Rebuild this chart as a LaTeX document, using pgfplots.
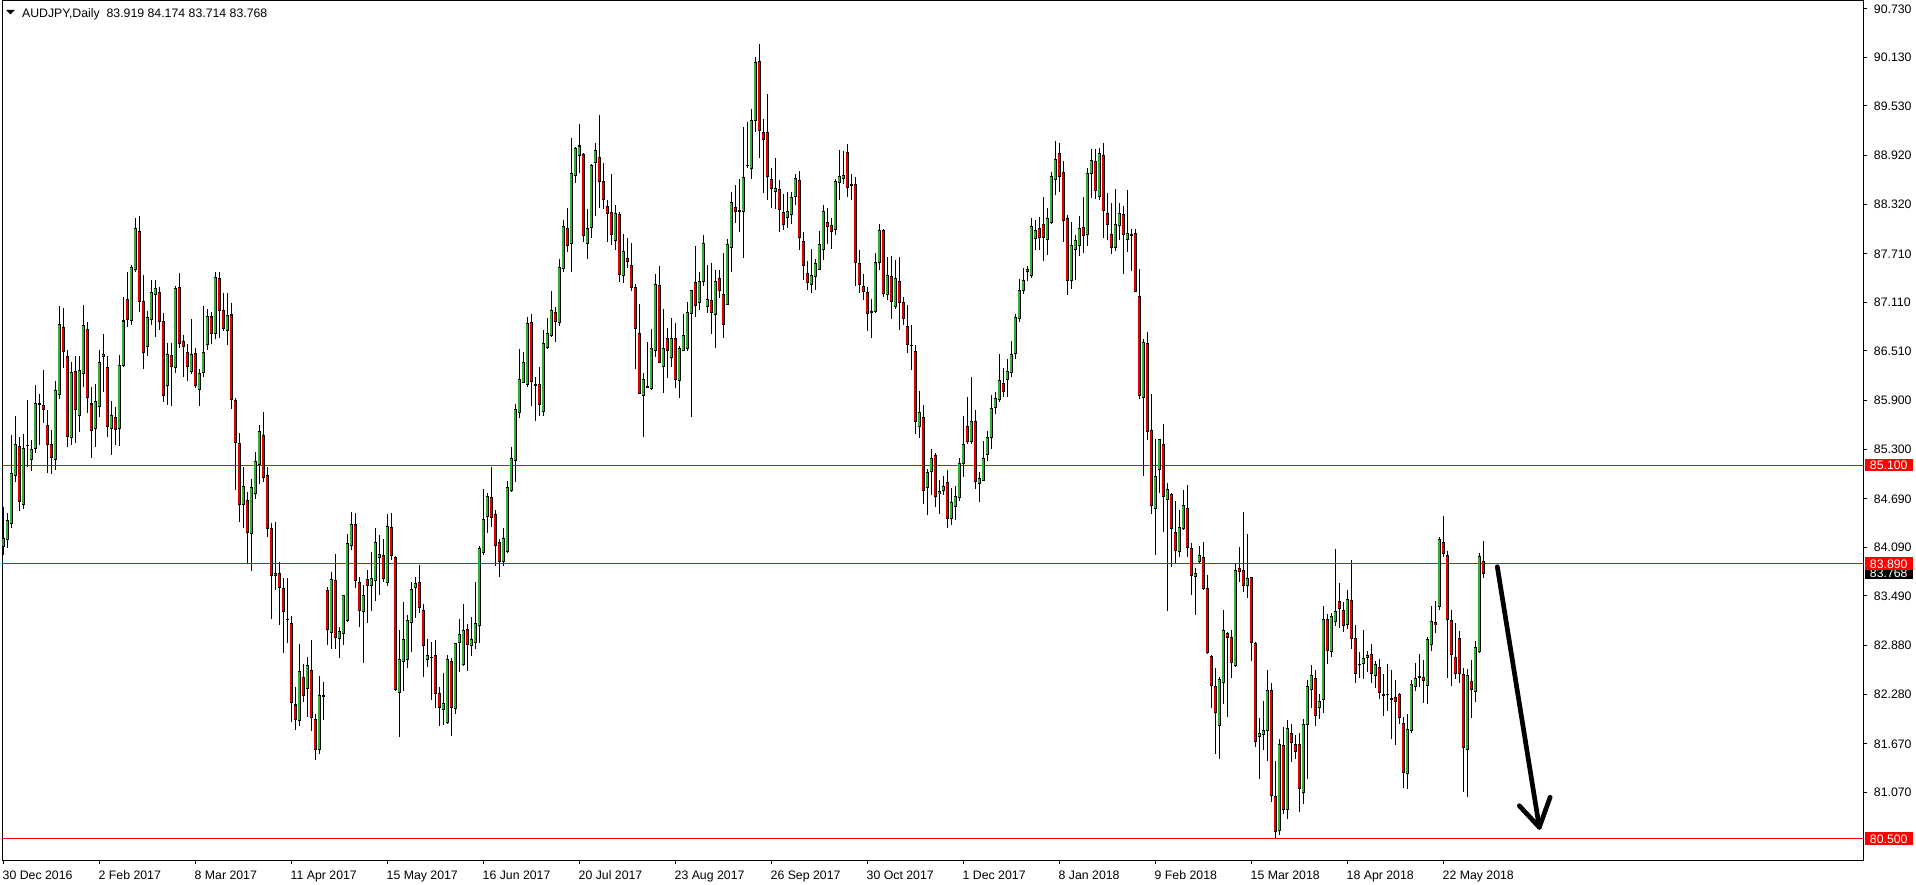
\documentclass[border=0pt]{standalone}
\usepackage{pgfplots}
\pgfplotsset{compat=1.18}
\usepackage{pgfplotstable}
\usepackage{fontspec}
\setmainfont{Liberation Sans}
\definecolor{bull}{RGB}{50,175,50}
\definecolor{bear}{RGB}{225,0,0}
\pgfplotstableread{
i o h l c
0 84.098 84.591 83.995 84.200
1 84.188 84.508 84.077 84.426
2 84.385 85.474 84.324 85.001
3 84.973 85.708 84.899 85.359
4 85.330 85.445 84.541 84.652
5 84.619 85.486 84.558 85.310
6 85.347 85.905 85.084 85.345
7 85.174 85.412 85.034 85.297
8 85.310 86.090 85.248 85.864
9 85.856 85.979 85.351 85.858
10 85.839 86.275 85.618 85.790
11 85.593 85.782 85.001 85.359
12 85.359 85.535 84.993 85.195
13 85.174 86.139 85.043 86.024
14 85.975 87.064 85.922 86.838
15 86.801 87.043 86.304 86.501
16 86.447 86.521 85.322 85.453
17 85.445 86.378 85.351 86.246
18 86.250 86.447 85.371 85.790
19 85.716 86.447 85.515 86.263
20 86.234 87.076 86.070 86.825
21 86.768 86.871 85.741 85.938
22 85.856 86.070 85.186 85.535
23 85.556 86.102 85.330 85.881
24 85.823 86.521 85.700 86.369
25 86.439 86.719 86.008 86.472
26 86.312 86.447 85.453 85.577
27 85.552 85.893 85.227 85.708
28 85.696 85.815 85.351 85.544
29 85.556 86.460 85.342 86.337
30 86.328 87.170 86.316 86.879
31 87.146 87.487 86.809 86.899
32 86.883 87.569 86.830 87.540
33 87.516 88.144 87.487 88.021
34 87.988 88.173 86.994 87.117
35 87.125 87.446 86.283 86.489
36 86.563 87.002 86.447 86.928
37 86.899 87.384 86.830 87.236
38 87.203 87.384 86.677 87.273
39 87.236 87.294 86.768 86.871
40 86.879 86.973 85.876 85.959
41 86.082 86.604 85.844 86.468
42 86.447 86.604 85.835 86.316
43 86.308 87.310 86.234 87.285
44 87.294 87.474 86.542 86.604
45 86.628 86.706 86.185 86.563
46 86.493 86.595 86.143 86.316
47 86.255 86.900 86.226 86.468
48 86.481 86.542 86.049 86.078
49 86.037 86.284 85.832 86.234
50 86.243 87.064 86.185 86.493
51 86.592 87.023 86.522 86.933
52 86.933 86.994 86.596 86.727
53 86.727 87.479 86.657 87.417
54 87.405 87.479 86.666 87.007
55 87.007 87.220 86.760 86.789
56 86.768 87.228 86.583 86.953
57 86.953 87.097 85.791 85.906
58 85.897 85.934 84.797 85.380
59 85.372 85.495 84.406 84.620
60 84.620 85.076 84.324 84.838
61 84.661 84.776 83.885 84.271
62 84.262 84.928 83.802 84.825
63 84.755 85.261 84.681 85.154
64 85.113 85.598 84.870 85.519
65 85.462 85.754 84.899 84.953
66 84.977 85.076 84.221 84.324
67 84.324 84.386 83.207 83.745
68 83.741 84.398 83.564 83.769
69 83.769 83.905 83.133 83.593
70 83.585 83.708 82.784 83.297
71 83.203 83.708 82.907 83.201
72 83.153 83.244 81.941 82.176
73 82.147 82.373 81.839 81.970
74 81.954 82.899 81.888 82.558
75 82.488 82.652 82.188 82.266
76 82.352 82.742 81.995 82.636
77 82.570 82.948 81.831 81.995
78 81.970 82.036 81.469 81.600
79 81.600 82.504 81.543 82.266
80 82.262 82.426 81.962 82.264
81 83.552 83.605 82.886 83.071
82 83.042 83.790 82.833 83.695
83 83.679 84.004 82.833 82.977
84 82.968 83.112 82.722 83.059
85 83.030 83.502 82.886 83.490
86 83.186 84.254 83.174 84.139
87 84.115 84.529 84.057 84.373
88 84.373 84.509 83.585 83.679
89 83.659 83.728 83.112 83.309
90 83.297 83.626 82.660 83.502
91 83.695 83.811 83.162 83.618
92 83.618 84.037 83.309 83.708
93 83.679 84.333 83.433 84.152
94 83.967 84.242 83.503 84.004
95 83.992 84.189 83.667 83.700
96 83.655 84.497 83.614 84.349
97 84.337 84.509 83.934 83.988
98 83.967 83.983 82.324 82.332
99 82.299 83.071 81.757 82.702
100 82.681 83.416 82.324 82.948
101 82.710 83.256 82.599 83.182
102 83.162 83.659 82.804 83.573
103 83.593 83.720 83.223 83.646
104 83.659 83.872 83.277 83.347
105 83.306 83.388 82.496 82.878
106 82.710 82.960 82.619 82.755
107 82.735 82.919 82.209 82.737
108 82.755 82.948 82.106 82.291
109 82.291 82.373 81.892 82.114
110 82.094 82.537 81.900 82.168
111 81.929 82.763 81.913 82.702
112 82.689 82.722 81.769 82.114
113 82.106 82.915 82.032 82.907
114 82.915 83.207 82.558 83.010
115 82.640 83.388 82.632 83.059
116 83.071 83.141 82.566 82.895
117 82.878 83.227 82.755 82.948
118 82.919 83.659 82.837 83.154
119 83.125 84.107 82.915 84.078
120 84.024 84.805 83.996 84.435
121 84.468 84.764 84.263 84.719
122 84.702 85.080 84.345 84.456
123 84.497 84.550 83.860 84.111
124 84.148 84.189 83.720 83.914
125 83.914 84.333 83.860 84.201
126 84.037 84.908 84.024 84.830
127 84.789 85.331 84.776 85.183
128 85.158 85.852 84.899 85.791
129 85.750 86.530 85.680 86.161
130 86.120 86.493 86.111 86.370
131 86.099 86.933 86.062 86.851
132 86.863 86.966 85.832 86.132
133 86.091 86.193 85.651 86.089
134 86.099 86.308 85.713 85.844
135 85.762 86.769 85.713 86.604
136 86.551 86.912 86.534 86.727
137 86.699 87.249 86.686 87.011
138 86.986 87.048 86.625 86.871
139 86.863 87.643 86.822 87.541
140 87.528 88.124 87.487 88.050
141 88.021 88.268 87.726 87.808
142 87.837 89.139 87.487 88.699
143 88.670 89.028 88.576 89.007
144 88.917 89.307 88.699 89.036
145 88.925 88.946 87.857 87.931
146 87.837 88.260 87.639 88.021
147 88.030 88.810 87.906 88.790
148 88.835 89.069 88.178 88.983
149 88.896 89.418 88.276 88.597
150 88.605 88.822 88.260 88.371
151 88.284 88.371 87.849 88.206
152 88.219 88.691 87.816 87.947
153 87.869 88.309 87.754 88.206
154 88.186 88.227 87.364 87.446
155 87.446 87.947 87.344 87.742
156 87.643 87.898 87.528 87.611
157 87.557 87.841 87.249 87.294
158 87.294 87.331 86.284 86.789
159 86.719 87.085 85.976 85.988
160 85.955 86.234 85.454 86.152
161 86.070 86.625 86.049 86.072
162 86.049 86.777 86.029 86.534
163 86.510 87.459 86.440 87.323
164 87.323 87.557 86.358 86.370
165 86.317 87.027 85.988 86.543
166 86.666 86.789 86.173 86.510
167 86.432 86.912 86.317 86.658
168 86.658 86.851 86.058 86.160
169 86.148 86.575 85.926 86.543
170 86.522 86.966 86.510 86.707
171 86.543 87.109 86.510 86.986
172 86.974 87.261 85.692 87.257
173 87.356 87.808 86.933 87.068
174 87.109 87.479 87.015 87.372
175 87.364 87.939 87.315 87.837
176 87.056 87.570 86.974 87.146
177 87.134 87.590 86.715 86.986
178 86.962 87.508 86.543 87.372
179 87.397 87.508 87.159 87.253
180 87.208 87.713 86.666 86.838
181 87.085 87.890 87.077 87.816
182 87.787 88.473 87.479 88.342
183 88.280 88.555 88.083 88.227
184 88.239 88.629 87.980 88.241
185 88.235 89.270 87.660 88.650
186 88.802 89.328 88.761 88.800
187 88.761 89.492 88.625 89.352
188 89.352 90.137 89.213 90.067
189 90.084 90.293 88.884 89.225
190 89.204 89.369 88.453 89.118
191 89.204 89.673 88.371 88.658
192 88.625 88.761 88.268 88.510
193 88.473 88.884 88.260 88.514
194 88.502 88.617 87.972 88.255
195 88.219 88.440 88.001 88.071
196 88.153 88.473 88.021 88.227
197 88.194 88.469 88.071 88.399
198 88.407 88.687 88.305 88.633
199 88.613 88.724 87.758 87.914
200 87.861 87.976 87.389 87.569
201 87.463 87.615 87.265 87.348
202 87.323 87.762 87.224 87.438
203 87.422 87.639 87.265 87.586
204 87.512 87.984 87.504 87.824
205 87.758 88.305 87.627 88.231
206 88.091 88.276 87.832 88.050
207 88.054 88.149 87.762 87.988
208 88.005 88.625 87.943 88.600
209 88.584 88.983 88.366 88.662
210 88.633 88.974 88.572 88.674
211 88.954 89.065 88.407 88.522
212 88.559 88.695 88.375 88.557
213 88.564 88.654 87.311 87.606
214 87.586 87.750 87.224 87.327
215 87.306 87.454 87.142 87.237
216 87.228 87.298 86.756 86.978
217 86.990 87.146 86.670 86.988
218 87.002 87.717 86.978 87.598
219 87.598 88.079 87.504 87.988
220 87.997 88.009 87.175 87.216
221 87.204 87.668 87.134 87.438
222 87.430 87.676 86.908 87.126
223 87.064 87.627 87.031 87.401
224 87.368 87.668 86.764 87.113
225 87.113 87.175 86.826 86.916
226 86.814 87.072 86.485 86.588
227 86.579 86.826 86.279 86.577
228 86.505 86.579 85.483 85.635
229 85.585 86.012 85.441 85.758
230 85.688 85.840 84.620 84.784
231 84.821 85.059 84.484 85.010
232 85.018 85.306 84.731 85.183
233 85.224 85.252 84.587 84.722
234 84.751 84.924 84.505 84.780
235 84.784 84.965 84.731 84.842
236 84.887 85.039 84.328 84.443
237 84.443 84.825 84.369 84.640
238 84.587 84.842 84.423 84.722
239 84.698 85.195 84.661 85.121
240 85.121 85.708 84.957 85.355
241 85.581 85.943 85.367 85.388
242 85.388 86.189 85.359 85.643
243 85.643 85.778 84.805 84.907
244 84.875 85.018 84.649 84.936
245 84.916 85.396 84.907 85.183
246 85.232 85.520 85.150 85.441
247 85.441 85.971 85.306 85.799
248 85.807 86.004 85.729 85.922
249 85.910 86.477 85.881 86.148
250 86.107 86.304 85.943 86.004
251 86.156 86.415 85.943 86.259
252 86.238 86.633 86.189 86.464
253 86.477 86.961 86.407 86.920
254 86.908 87.401 86.867 87.257
255 87.252 87.530 87.217 87.378
256 87.494 87.555 87.378 87.520
257 87.444 88.145 87.414 88.044
258 87.893 88.125 87.757 87.999
259 88.019 88.160 87.752 87.903
260 88.069 88.402 87.621 87.908
261 87.883 88.271 87.691 88.145
262 88.099 88.715 88.074 88.664
263 88.629 89.103 88.437 88.876
264 88.941 89.068 88.473 88.659
265 88.715 88.851 87.852 88.120
266 88.145 88.185 87.202 87.378
267 87.378 88.094 87.278 87.807
268 87.757 87.943 87.389 87.873
269 87.807 88.175 87.681 88.019
270 88.034 88.412 87.716 87.933
271 87.943 88.765 87.807 88.699
272 88.699 89.002 88.397 88.856
273 88.851 89.002 88.377 88.488
274 88.412 89.017 88.377 88.941
275 88.916 89.068 87.908 88.236
276 88.200 88.463 87.873 88.064
277 87.943 88.336 87.706 87.782
278 87.782 88.503 87.741 88.069
279 88.054 88.336 87.873 88.200
280 88.195 88.296 87.454 87.943
281 87.883 88.488 87.731 87.958
282 87.943 88.009 87.489 87.945
283 87.958 88.009 87.237 87.247
284 87.177 87.515 85.916 85.967
285 85.942 86.663 84.968 86.612
286 86.597 86.738 85.412 85.513
287 85.533 85.977 84.505 84.605
288 84.565 85.427 84.000 84.958
289 85.049 85.427 84.757 85.422
290 85.362 85.604 84.278 84.721
291 84.681 84.883 83.305 84.797
292 84.742 84.757 83.849 84.318
293 84.278 84.666 83.900 84.051
294 84.041 84.555 83.975 84.328
295 84.318 84.797 84.303 84.605
296 84.570 84.857 83.975 84.091
297 84.076 84.142 83.506 83.738
298 83.733 83.839 83.259 83.773
299 83.915 84.111 83.884 83.990
300 83.965 84.152 83.562 83.587
301 83.587 83.748 82.775 82.790
302 82.740 82.765 82.110 82.387
303 82.377 82.599 81.545 82.049
304 81.893 82.488 81.479 82.463
305 82.422 83.320 82.160 83.068
306 83.027 83.043 81.999 82.977
307 82.977 83.068 82.473 82.664
308 82.629 83.900 82.614 83.799
309 83.829 84.091 83.658 83.789
310 83.809 84.520 83.537 83.622
311 83.622 84.253 83.471 83.708
312 83.713 83.723 82.690 82.916
313 82.904 82.925 81.630 81.692
314 81.754 81.992 81.240 81.795
315 81.782 82.193 81.597 81.836
316 81.836 82.575 81.458 82.325
317 82.325 82.423 80.952 81.035
318 81.022 81.454 80.488 80.583
319 80.595 81.721 80.541 81.659
320 81.651 81.877 80.809 80.858
321 80.858 81.959 80.747 81.856
322 81.795 81.918 81.445 81.680
323 81.659 81.774 81.486 81.577
324 81.659 81.795 80.821 81.117
325 81.067 81.980 80.924 81.906
326 81.906 82.452 81.240 82.378
327 82.337 82.637 82.115 82.514
328 82.473 82.575 81.889 82.012
329 82.115 82.288 81.980 82.189
330 82.214 83.364 82.049 83.200
331 83.200 83.274 82.658 82.822
332 82.810 83.282 82.740 83.233
333 83.179 84.067 83.118 83.303
334 83.426 83.652 83.089 83.336
335 83.315 83.418 83.048 83.122
336 83.138 83.562 83.077 83.451
337 83.438 83.931 82.842 82.966
338 82.966 83.138 82.411 82.534
339 82.649 82.801 82.473 82.647
340 82.658 83.077 82.473 82.719
341 82.732 82.814 82.547 82.760
342 82.769 82.904 82.411 82.534
343 82.510 82.686 82.358 82.645
344 82.608 82.707 82.226 82.300
345 82.275 82.534 82.012 82.273
346 82.275 82.649 82.070 82.277
347 82.222 82.575 81.725 82.220
348 82.238 82.452 81.651 82.193
349 82.280 82.296 81.910 81.992
350 81.918 82.000 81.129 81.310
351 81.302 82.041 81.117 81.844
352 81.836 82.452 81.807 82.399
353 82.378 82.658 82.321 82.473
354 82.493 82.781 82.370 82.491
355 82.485 82.699 82.177 82.444
356 82.391 82.986 82.156 82.953
357 82.892 83.364 82.814 83.179
358 83.163 83.426 83.040 83.138
359 83.364 84.219 83.315 84.186
360 84.149 84.478 83.964 84.014
361 83.993 84.042 82.473 83.200
362 83.192 83.315 82.378 82.769
363 82.732 83.159 82.464 82.534
364 82.966 83.056 82.411 82.534
365 82.526 82.596 81.076 81.622
366 81.597 82.596 81.014 82.514
367 82.440 82.699 81.980 82.337
368 82.317 82.933 82.185 82.855
369 82.810 84.013 82.781 83.981
370 83.919 84.174 83.714 83.768
}\ohlc
\begin{document}
\fontsize{6.15pt}{7.4pt}\selectfont
\begin{tikzpicture}[font=\fontsize{6.15pt}{7.4pt}\selectfont]
\begin{axis}[
  at={(0,0)}, anchor=south west,
  scale only axis,
  width=930.25pt, height=429.75pt,
  xmin=-0.2, xmax=464.925,
  ymin=80.235, ymax=90.829,
  axis line style={line width=0.5pt, black},
  tick align=outside,
  major tick length=2pt,
  tick style={line width=0.5pt, black},
  xtick pos=bottom,
  ytick pos=right,
  yticklabel pos=right,
  xtick={0,24,48,72,96,120,144,168,192,216,240,264,288,312,336,360},
  xticklabels={30 Dec 2016,2 Feb 2017,8 Mar 2017,11 Apr 2017,15 May 2017,16 Jun 2017,20 Jul 2017,23 Aug 2017,26 Sep 2017,30 Oct 2017,1 Dec 2017,8 Jan 2018,9 Feb 2018,15 Mar 2018,18 Apr 2018,22 May 2018},
  ytick={90.73,90.13,89.53,88.92,88.32,87.71,87.11,86.51,85.90,85.30,84.69,84.09,83.49,82.88,82.28,81.67,81.07},
  yticklabels={90.730,90.130,89.530,88.920,88.320,87.710,87.110,86.510,85.900,85.300,84.690,84.090,83.490,82.880,82.280,81.670,81.070},
  xticklabel style={anchor=base west, inner sep=0pt, xshift=-0.5pt, yshift=-7.5pt},
  yticklabel style={anchor=base west, inner sep=0pt, xshift=3.25pt, yshift=-2.25pt},
  every tick label/.append style={font=\fontsize{6.15pt}{7.4pt}\selectfont, text=black},
]
% horizontal levels
\addplot[forget plot, red, line width=0.5pt] coordinates {(-0.2,85.1) (464.925,85.1)};
\addplot[forget plot, red, line width=0.5pt] coordinates {(-0.2,83.89) (464.925,83.89)};
\addplot[forget plot, red, line width=0.5pt] coordinates {(-0.2,80.5) (464.925,80.5)};
% wicks
\addplot[forget plot, draw=none, mark=none,
  error bars/.cd, y dir=both, y explicit, error mark=none,
  error bar style={draw=black, line width=0.5pt}]
  table[x=i, y expr={(\thisrow{h}+\thisrow{l})/2}, y error expr={(\thisrow{h}-\thisrow{l})/2}] {\ohlc};
% body outline
\addplot[forget plot, draw=none, mark=none,
  error bars/.cd, y dir=both, y explicit, error mark=none,
  error bar style={draw=black, line width=1.6pt}]
  table[x=i, y expr={(\thisrow{o}+\thisrow{c})/2}, y error expr={abs(\thisrow{c}-\thisrow{o})/2+0.0062}] {\ohlc};
% bull fill
\addplot[forget plot, draw=none, mark=none,
  restrict expr to domain={\thisrow{c}-\thisrow{o}}{0.025:100}, unbounded coords=discard,
  error bars/.cd, y dir=both, y explicit, error mark=none,
  error bar style={draw=bull, line width=0.85pt}]
  table[x=i, y expr={(\thisrow{o}+\thisrow{c})/2}, y error expr={(\thisrow{c}-\thisrow{o})/2-0.0062}] {\ohlc};
% bear fill
\addplot[forget plot, draw=none, mark=none,
  restrict expr to domain={\thisrow{o}-\thisrow{c}}{0.025:100}, unbounded coords=discard,
  error bars/.cd, y dir=both, y explicit, error mark=none,
  error bar style={draw=bear, line width=0.85pt}]
  table[x=i, y expr={(\thisrow{o}+\thisrow{c})/2}, y error expr={(\thisrow{o}-\thisrow{c})/2-0.0062}] {\ohlc};
% arrow annotation
\draw[line width=2.35pt, line cap=round, line join=round] (axis cs:373.5,83.850) -- (axis cs:384,80.638);
\draw[line width=2.35pt, line cap=round, line join=round] (axis cs:379,80.904) -- (axis cs:384,80.638) -- (axis cs:386.7,81.008);
\end{axis}
\begin{scope}[x=0.5pt, y=0.5pt]
  % title
  \fill (3.5,850) -- (12.5,850) -- (8,845.5) -- cycle;
  \node[anchor=base west, inner sep=0pt, text=black] at (19.2,842.7) {AUDJPY,Daily~~83.919 84.174 83.714 83.768};
  % current price label (black)
  \fill[black] (1862.5,280.5) rectangle (1910.5,292.8);
  \node[anchor=base west, inner sep=0pt, text=white] at (1867,282.1) {83.768};
  % level labels (red)
  \fill[red] (1862.5,388.6) rectangle (1910.5,400.9);
  \node[anchor=base west, inner sep=0pt, text=white] at (1867,390.2) {85.100};
  \fill[red] (1862.5,290.4) rectangle (1910.5,302.7);
  \node[anchor=base west, inner sep=0pt, text=white] at (1867,292.0) {83.890};
  \fill[red] (1862.5,15.4) rectangle (1910.5,27.7);
  \node[anchor=base west, inner sep=0pt, text=white] at (1867,17.0) {80.500};
\end{scope}
\pgfresetboundingbox
\path (-1.25pt,-12pt) rectangle (956.75pt,430pt);
\end{tikzpicture}
\end{document}
